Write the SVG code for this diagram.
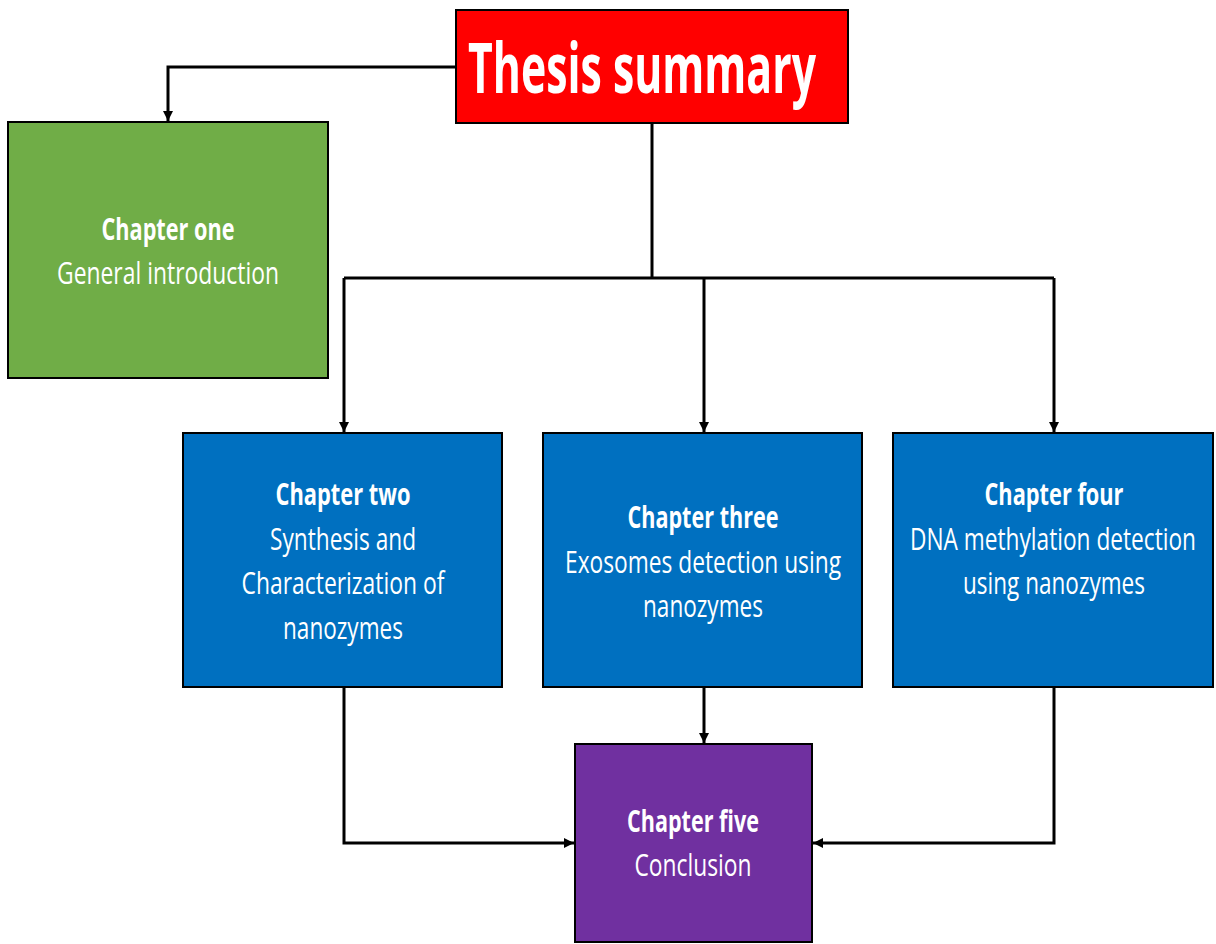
<svg xmlns="http://www.w3.org/2000/svg" width="1216" height="944" viewBox="0 0 1216 944">
<style>
.box{stroke:#000;stroke-width:2}
.t{font-family:"Open Sans","Liberation Sans",sans-serif;fill:#fff;font-size:31px;text-anchor:middle}
.b{font-weight:bold}
.c{fill:none;stroke:#000;stroke-width:3}
</style>
<defs>
<marker id="ah" markerWidth="10" markerHeight="10" viewBox="0 0 10 10" refX="10" refY="5" orient="auto" markerUnits="userSpaceOnUse">
<path d="M0,0 L10,5 L0,10 z" fill="#000"/>
</marker>
</defs>
<rect width="1216" height="944" fill="#fff"/>
<g id="connectors">
<polyline class="c" points="456,67 168,67 168,121" marker-end="url(#ah)"/>
<polyline class="c" points="652,123 652,278"/>
<polyline class="c" points="344,278 1054,278"/>
<polyline class="c" points="344,278 344,432" marker-end="url(#ah)"/>
<polyline class="c" points="704,278 704,432" marker-end="url(#ah)"/>
<polyline class="c" points="1054,278 1054,432" marker-end="url(#ah)"/>
<polyline class="c" points="344,687 344,843 574,843" marker-end="url(#ah)"/>
<polyline class="c" points="704,687 704,743" marker-end="url(#ah)"/>
<polyline class="c" points="1054,687 1054,843 813,843" marker-end="url(#ah)"/>
</g>
<g id="thesis">
<rect class="box" x="456" y="10" width="392" height="113" fill="#FF0000"/>
<text class="t b" x="642" y="93" style="font-size:70px" textLength="348" lengthAdjust="spacingAndGlyphs">Thesis summary</text>
</g>
<g id="ch1">
<rect class="box" x="8" y="122" width="320" height="256" fill="#70AD47"/>
<text class="t b" x="168" y="240" textLength="133" lengthAdjust="spacingAndGlyphs">Chapter one</text>
<text class="t" x="168" y="284" textLength="222" lengthAdjust="spacingAndGlyphs">General introduction</text>
</g>
<g id="ch2">
<rect class="box" x="183" y="433" width="319" height="254" fill="#0070C0"/>
<text class="t b" x="343" y="505" textLength="135" lengthAdjust="spacingAndGlyphs">Chapter two</text>
<text class="t" x="343" y="550" textLength="146" lengthAdjust="spacingAndGlyphs">Synthesis and</text>
<text class="t" x="343" y="594" textLength="203" lengthAdjust="spacingAndGlyphs">Characterization of</text>
<text class="t" x="343" y="639" textLength="120" lengthAdjust="spacingAndGlyphs">nanozymes</text>
</g>
<g id="ch3">
<rect class="box" x="543" y="433" width="319" height="254" fill="#0070C0"/>
<text class="t b" x="703" y="528" textLength="151" lengthAdjust="spacingAndGlyphs">Chapter three</text>
<text class="t" x="703" y="573" textLength="276" lengthAdjust="spacingAndGlyphs">Exosomes detection using</text>
<text class="t" x="703" y="617" textLength="120" lengthAdjust="spacingAndGlyphs">nanozymes</text>
</g>
<g id="ch4">
<rect class="box" x="893" y="433" width="320" height="254" fill="#0070C0"/>
<text class="t b" x="1054" y="505" textLength="139" lengthAdjust="spacingAndGlyphs">Chapter four</text>
<text class="t" transform="translate(1053,550) scale(1,1.41)" x="0" y="0" style="font-size:22px" textLength="286" lengthAdjust="spacingAndGlyphs">DNA methylation detection</text>
<text class="t" x="1054" y="594" textLength="182" lengthAdjust="spacingAndGlyphs">using nanozymes</text>
</g>
<g id="ch5">
<rect class="box" x="575" y="744" width="237" height="198" fill="#7030A0"/>
<text class="t b" x="693" y="832" textLength="132" lengthAdjust="spacingAndGlyphs">Chapter five</text>
<text class="t" x="693" y="876" textLength="117" lengthAdjust="spacingAndGlyphs">Conclusion</text>
</g>
</svg>
